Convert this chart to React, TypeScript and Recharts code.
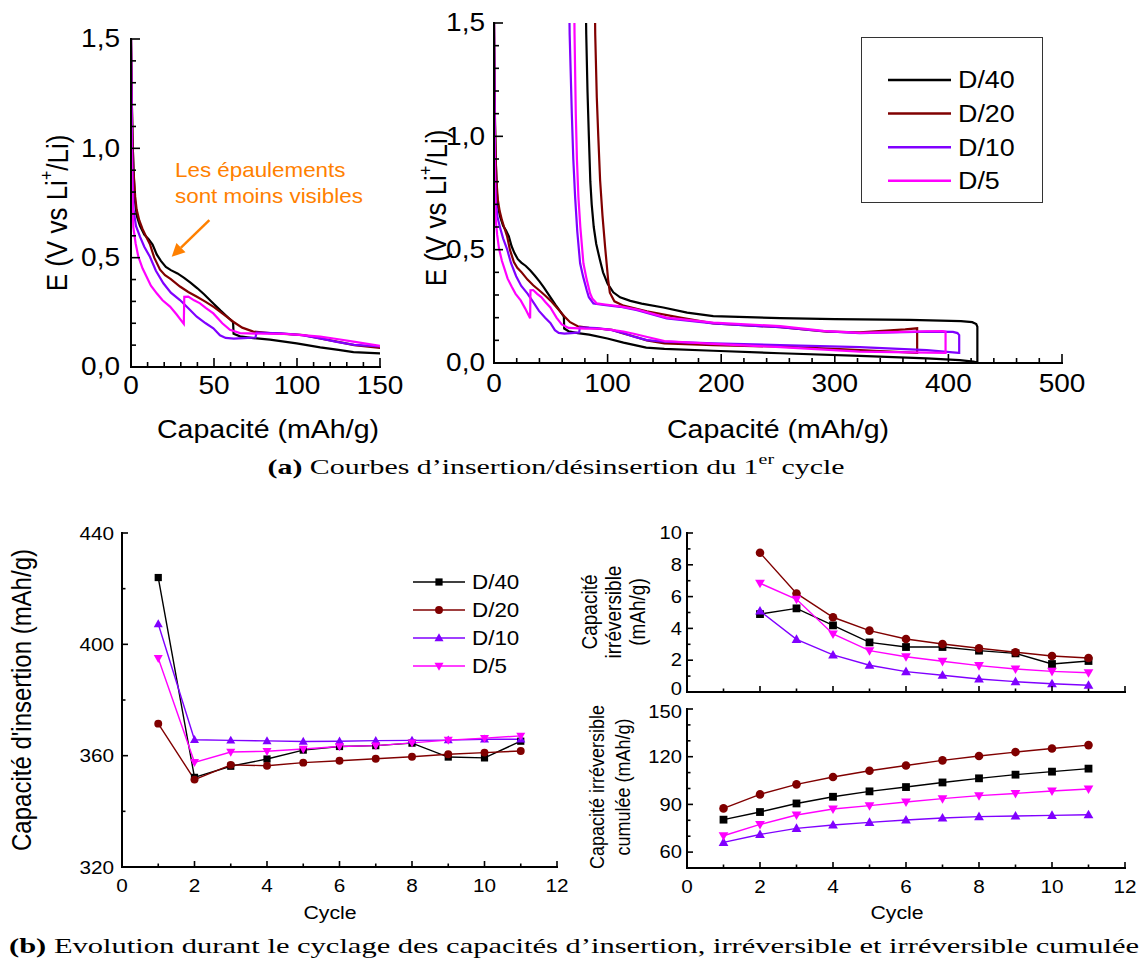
import React from 'react';
import { LineChart, Line, XAxis, YAxis, Legend, ReferenceLine } from 'recharts';

const SANS = '"Liberation Sans", Arial, Helvetica, sans-serif';
const SERIF = '"Liberation Serif", "Times New Roman", serif';
const SX = 1.12; // the source figure is slightly stretched horizontally
const ORANGE = '#ff8000';

const rateNames = ['D/40', 'D/20', 'D/10', 'D/5'];
const rateColors = ['#000000', '#800000', '#8000ff', '#ff00ff'];
const rateMarkers = ['square', 'circle', 'up', 'down'];

// first cycle, insertion (discharge) branch: [capacity mAh/g, E V]
const d40Dis = [
  [0, 1.5], [0.4, 1.25], [0.9, 1.05], [1.5, 0.9], [2.4, 0.76], [3.5, 0.69], [5.4, 0.645], [8, 0.605],
  [10.5, 0.585], [13, 0.56], [15.5, 0.515], [18, 0.485], [21, 0.458], [24, 0.443], [28, 0.428],
  [32, 0.408], [36, 0.385], [40, 0.36], [44, 0.333], [49, 0.295], [54, 0.258], [58, 0.23],
  [61.5, 0.205], [61.8, 0.152], [65.7, 0.14], [73.7, 0.132], [83.7, 0.125], [99.8, 0.108],
  [114, 0.09], [125, 0.078], [134, 0.068], [150, 0.062], [193, 0.054], [252, 0.043], [322, 0.031],
  [381, 0.02], [410, 0.013], [422, 0.006], [425, 0.003],
];
const d20Dis = [
  [0, 1.5], [0.4, 1.25], [0.9, 1.05], [1.5, 0.9], [2.5, 0.78], [3.4, 0.72], [5, 0.67], [7, 0.63],
  [9.5, 0.59], [11.5, 0.56], [14, 0.5], [17.5, 0.445], [20.5, 0.42], [24, 0.402], [29.5, 0.368],
  [34.5, 0.343], [40, 0.32], [45, 0.298], [50, 0.274], [56, 0.24], [61.6, 0.207], [67, 0.18],
  [73.7, 0.162], [83.7, 0.155], [95, 0.15], [104, 0.146], [113, 0.132], [124, 0.116], [134.5, 0.1],
  [150, 0.087], [193, 0.079], [252, 0.072], [300, 0.062], [340, 0.053], [372, 0.045],
];
const d10Dis = [
  [0, 1.5], [0.3, 1.25], [0.7, 1.0], [1.0, 0.85], [1.5, 0.72], [3, 0.645], [5.4, 0.596], [8, 0.55],
  [11.4, 0.504], [15, 0.44], [19.5, 0.383], [24, 0.34], [29.5, 0.306], [35, 0.265], [39.6, 0.23],
  [45, 0.2], [49.6, 0.177], [53.6, 0.145], [57, 0.133], [62, 0.13], [68, 0.132], [75, 0.135],
  [75.6, 0.157], [90.5, 0.154], [103, 0.146], [114, 0.131], [124, 0.115], [134.5, 0.101],
  [150, 0.094], [193, 0.087], [252, 0.079], [322, 0.07], [381, 0.057], [409, 0.045],
];
const d5Dis = [
  [0, 1.5], [0.2, 1.2], [0.5, 0.95], [0.9, 0.78], [1.4, 0.64], [2.8, 0.565], [4.4, 0.505], [7, 0.45],
  [9.4, 0.413], [12, 0.372], [15.5, 0.337], [19, 0.305], [23.5, 0.276], [27.5, 0.24], [31.8, 0.197],
  [32.1, 0.321], [34.5, 0.322], [38, 0.305], [41.6, 0.291], [45, 0.27], [49.6, 0.245], [55, 0.2],
  [59.6, 0.17], [65.7, 0.155], [80, 0.152], [94, 0.151], [105, 0.145], [114, 0.139], [124, 0.128],
  [134, 0.116], [150, 0.097], [193, 0.084], [252, 0.07], [322, 0.05], [397, 0.045],
];

// first cycle, desinsertion (charge) branch, plotted back towards lower capacity
const d40Cha = [
  [425.5, 0.003], [425.5, 0.16], [424.5, 0.172], [421, 0.18], [411, 0.185], [366, 0.19], [300, 0.194],
  [252, 0.198], [193, 0.207], [170, 0.222], [149, 0.245], [130, 0.262], [120, 0.274], [111, 0.29],
  [105, 0.312], [100, 0.35], [96, 0.4], [93, 0.46], [90, 0.525], [87.8, 0.6], [86, 0.7], [84.8, 0.8],
  [83.5, 1.0], [82.3, 1.2], [81.2, 1.45], [80.8, 1.6],
];
const d20Cha = [
  [372.5, 0.045], [372.5, 0.153], [362, 0.148], [352, 0.145], [322, 0.135], [293, 0.138], [252, 0.158],
  [234, 0.163], [193, 0.175], [164, 0.2], [134.5, 0.228], [114, 0.253], [106, 0.272], [102, 0.31],
  [100.5, 0.366], [97.8, 0.512], [95.5, 0.65], [93.4, 0.806], [91.8, 1.0], [90.5, 1.17], [89.1, 1.45],
  [88.8, 1.6],
];
const d10Cha = [
  [409.5, 0.045], [409.5, 0.123], [408, 0.132], [404, 0.137], [381, 0.138], [350, 0.135], [322, 0.132],
  [290, 0.14], [252, 0.158], [234, 0.163], [193, 0.175], [152, 0.197], [126, 0.233], [111, 0.248],
  [95, 0.257], [87.5, 0.263], [83.5, 0.29], [81.7, 0.32], [78.5, 0.38], [75.8, 0.44], [73.3, 0.58],
  [71.4, 0.733], [69.8, 0.9], [68.5, 1.1], [66.6, 1.45], [66.2, 1.6],
];
const d5Cha = [
  [397.5, 0.045], [397.5, 0.138], [395, 0.141], [381, 0.14], [350, 0.136], [322, 0.133], [290, 0.142],
  [252, 0.163], [193, 0.178], [152, 0.2], [126, 0.236], [111, 0.25], [98, 0.258], [90.5, 0.263],
  [86.5, 0.285], [84.6, 0.307], [81.5, 0.37], [78.7, 0.44], [76, 0.6], [74.3, 0.733], [73, 0.9],
  [72, 1.1], [70.9, 1.45], [70.6, 1.6],
];

const disArrays = [d40Dis, d20Dis, d10Dis, d5Dis];
const chaArrays = [d40Cha, d20Cha, d10Cha, d5Cha];

// cycling
const cycles = [1, 2, 3, 4, 5, 6, 7, 8, 9, 10, 11];
const insD40 = [424, 352.2, 356.2, 358.8, 362.0, 363.3, 363.6, 364.5, 359.5, 359.2, 365.2];
const insD20 = [371.5, 351.4, 356.7, 356.4, 357.5, 358.2, 358.9, 359.6, 360.5, 361.1, 361.7];
const insD10 = [407.3, 365.7, 365.5, 365.3, 365.1, 365.2, 365.4, 365.5, 365.6, 365.9, 365.9];
const insD5 = [395.0, 357.6, 361.3, 361.6, 362.4, 363.3, 363.6, 364.6, 365.6, 366.3, 367.1];

const irrCycles = [2, 3, 4, 5, 6, 7, 8, 9, 10, 11];
const irrD40 = [4.9, 5.26, 4.19, 3.12, 2.83, 2.83, 2.6, 2.43, 1.76, 1.95];
const irrD20 = [8.76, 6.2, 4.7, 3.86, 3.33, 3.02, 2.75, 2.5, 2.26, 2.14];
const irrD10 = [5.09, 3.31, 2.33, 1.68, 1.28, 1.05, 0.82, 0.65, 0.52, 0.42];
const irrD5 = [6.84, 5.83, 3.65, 2.6, 2.22, 1.93, 1.66, 1.45, 1.3, 1.21];

const cumD40 = [80.4, 85.2, 90.6, 94.8, 98.2, 100.9, 103.8, 106.4, 108.7, 110.6, 112.5];
const cumD20 = [87.5, 96.3, 102.6, 107.2, 111.2, 114.5, 117.7, 120.4, 122.9, 125.2, 127.3];
const cumD10 = [66.1, 71.1, 74.9, 77.0, 78.7, 80.2, 81.4, 82.3, 82.7, 83.1, 83.5];
const cumD5 = [70.3, 77.4, 83.3, 87.1, 89.2, 91.5, 93.6, 95.5, 96.9, 98.4, 99.7];

// ticks
const capTicksA = [0, 10, 20, 30, 40, 50, 60, 70, 80, 90, 100, 110, 120, 130, 140, 150];
const capMajorA = [0, 50, 100, 150];
const capTicksB = [0, 20, 40, 60, 80, 100, 120, 140, 160, 180, 200, 220, 240, 260, 280, 300, 320, 340, 360, 380, 400, 420, 440, 460, 480, 500];
const capMajorB = [0, 100, 200, 300, 400, 500];
const eTicks = [0, 0.1, 0.2, 0.3, 0.4, 0.5, 0.6, 0.7, 0.8, 0.9, 1, 1.1, 1.2, 1.3, 1.4, 1.5];
const eMajor = [0, 0.5, 1, 1.5];
const cycleTicks = [0, 1, 2, 3, 4, 5, 6, 7, 8, 9, 10, 11, 12];
const cycleMajor = [0, 2, 4, 6, 8, 10, 12];
const insTicks = [320, 340, 360, 380, 400, 420, 440];
const insMajor = [320, 360, 400, 440];
const irrTicks = [0, 1, 2, 3, 4, 5, 6, 7, 8, 9, 10];
const irrMajor = [0, 2, 4, 6, 8, 10];
const cumTicks = [60, 70, 80, 90, 100, 110, 120, 130, 140, 150];
const cumMajor = [60, 90, 120, 150];

// annotation arrow, in data units of the left plot
const arrowFrom = { x: 47.2, y: 0.672 };
const arrowTo = { x: 24.5, y: 0.504 };

const toPts = (arr: number[][]) => arr.map(([c, v]) => ({ c, v }));
const zipPts = (xs: number[], ys: number[]) => xs.map((c, i) => ({ c, v: ys[i] }));
const comma = (v: number) => v.toFixed(1).replace('.', ',');
const plain = (v: number) => String(v);

const AX = { stroke: '#000', strokeWidth: 2, strokeLinecap: 'square' as const };

function SText({ x, y, size, anchor = 'middle', fill = '#000', rotate = false, children }: any) {
  const t = `translate(${x},${y}) scale(${SX},1)${rotate ? ' rotate(-90)' : ''}`;
  return (
    <text transform={t} fontSize={size} fontFamily={SANS} textAnchor={anchor} dominantBaseline="central" fill={fill}>
      {children}
    </text>
  );
}

type Lbl = { fmt: (v: number) => string; size: number; gap: number; nudge?: (v: number) => number };
type Side = 'left' | 'right' | 'top' | 'bottom';

// inward ticks, major/minor, label only on majors
function makeTick(side: Side, majors: number[], lens: number[], label?: Lbl) {
  return (props: any) => {
    const { x, y, payload } = props;
    const v = payload.value;
    const major = majors.some((m) => Math.abs(m - v) < 1e-6);
    const len = major ? lens[0] : lens[1];
    let x2 = x;
    let y2 = y;
    if (side === 'left') x2 = x + len;
    if (side === 'right') x2 = x - len;
    if (side === 'bottom') y2 = y - len;
    if (side === 'top') y2 = y + len;
    let text = null;
    if (label && major) {
      const dy = label.nudge ? label.nudge(v) : 0;
      if (side === 'left') {
        text = <SText x={x - label.gap} y={y + dy} size={label.size} anchor="end">{label.fmt(v)}</SText>;
      } else {
        text = <SText x={x} y={y + label.gap} size={label.size}>{label.fmt(v)}</SText>;
      }
    }
    return (
      <g>
        <line x1={x} y1={y} x2={x2} y2={y2} stroke="#000" strokeWidth={1.6} />
        {text}
      </g>
    );
  };
}

function frame(cfg: {
  xd: number[]; yd: number[]; xt: number[]; xm: number[]; yt: number[]; ym: number[];
  lens: number[]; xh: number; yw: number; xl?: Lbl; yl?: Lbl;
}) {
  const common = {
    type: 'number' as const,
    allowDataOverflow: true,
    interval: 0 as const,
    tickLine: false,
    tickSize: 0,
    tickMargin: 0,
    axisLine: AX,
  };
  return [
    <XAxis key="xb" dataKey="c" domain={cfg.xd} ticks={cfg.xt} height={cfg.xh} tick={makeTick('bottom', cfg.xm, cfg.lens, cfg.xl)} {...common} />,
    <XAxis key="xt" xAxisId="t" orientation="top" domain={cfg.xd} ticks={cfg.xt} height={0} tick={makeTick('top', cfg.xm, cfg.lens)} {...common} />,
    <YAxis key="yl" domain={cfg.yd} ticks={cfg.yt} width={cfg.yw} tick={makeTick('left', cfg.ym, cfg.lens, cfg.yl)} {...common} />,
    <YAxis key="yr" yAxisId="r" orientation="right" domain={cfg.yd} ticks={cfg.yt} width={0} tick={makeTick('right', cfg.ym, cfg.lens)} {...common} />,
  ];
}

function Marker({ kind, cx, cy, color, s }: any) {
  if (cx == null || cy == null) return null;
  if (kind === 'square') return <rect x={cx - s} y={cy - s} width={2 * s} height={2 * s} fill={color} />;
  if (kind === 'circle') return <circle cx={cx} cy={cy} r={s * 1.1} fill={color} />;
  if (kind === 'up')
    return <polygon points={`${cx},${cy - s * 1.3} ${cx + s * 1.25},${cy + s * 0.9} ${cx - s * 1.25},${cy + s * 0.9}`} fill={color} />;
  return <polygon points={`${cx},${cy + s * 1.3} ${cx + s * 1.25},${cy - s * 0.9} ${cx - s * 1.25},${cy - s * 0.9}`} fill={color} />;
}

const dotFor = (kind: string, color: string, s: number) => (p: any) => (
  <Marker key={`m${p.index}`} kind={kind} cx={p.cx} cy={p.cy} color={color} s={s} />
);

function ArrowShape(p: any) {
  const { x1, y1, x2, y2 } = p;
  const a = Math.atan2(y2 - y1, x2 - x1);
  const L = 13;
  const W = 6.5;
  const bx = x2 - L * Math.cos(a);
  const by = y2 - L * Math.sin(a);
  const pts = `${x2},${y2} ${bx + W * Math.sin(a)},${by - W * Math.cos(a)} ${bx - W * Math.sin(a)},${by + W * Math.cos(a)}`;
  return (
    <g>
      <line x1={x1} y1={y1} x2={bx} y2={by} stroke={ORANGE} strokeWidth={2.5} />
      <polygon points={pts} fill={ORANGE} />
    </g>
  );
}

function BoxLegend() {
  return (
    <svg width={182} height={166} style={{ display: 'block' }}>
      <rect x={0.5} y={0.5} width={181} height={165} fill="#fff" stroke="#333" strokeWidth={1} />
      {rateNames.map((n, i) => {
        const y = 43 + i * 33.6;
        return (
          <g key={n}>
            <line x1={27} x2={90} y1={y} y2={y} stroke={rateColors[i]} strokeWidth={2.5} />
            <SText x={97} y={y} size={24} anchor="start">{n}</SText>
          </g>
        );
      })}
    </svg>
  );
}

function MarkerLegend() {
  return (
    <svg width={130} height={120} style={{ display: 'block' }}>
      {rateNames.map((n, i) => {
        const y = 17 + i * 28;
        return (
          <g key={n}>
            <line x1={8} x2={60} y1={y} y2={y} stroke={rateColors[i]} strokeWidth={1.5} />
            <Marker kind={rateMarkers[i]} cx={34} cy={y} color={rateColors[i]} s={3.6} />
            <SText x={67} y={y} size={20} anchor="start">{n}</SText>
          </g>
        );
      })}
    </svg>
  );
}

const abs = (left: number, top: number): React.CSSProperties => ({ position: 'absolute', left, top });

export default function App() {
  const insSeries = [insD40, insD20, insD10, insD5];
  const irrSeries = [irrD40, irrD20, irrD10, irrD5];
  const cumSeries = [cumD40, cumD20, cumD10, cumD5];

  return (
    <div style={{ position: 'absolute', left: 0, top: 0, width: 1142, height: 965, background: '#fff', overflow: 'hidden' }}>
      {/* (a) left: zoom on the start of the insertion */}
      <div style={abs(61, 19)}>
        <LineChart width={350} height={388} margin={{ top: 20, right: 31, bottom: 0, left: 0 }}>
          {frame({
            xd: [0, 150], yd: [0, 1.5], xt: capTicksA, xm: capMajorA, yt: eTicks, ym: eMajor,
            lens: [9, 5], xh: 40, yw: 70,
            xl: { fmt: plain, size: 25, gap: 19 }, yl: { fmt: comma, size: 25, gap: 11 },
          })}
          {disArrays.map((arr, i) => (
            <Line key={rateNames[i]} data={toPts(arr)} dataKey="v" type="linear" stroke={rateColors[i]} strokeWidth={2.2}
              dot={false} activeDot={false} isAnimationActive={false} />
          ))}
          <ReferenceLine segment={[arrowFrom, arrowTo]} ifOverflow="visible" shape={ArrowShape} />
        </LineChart>
      </div>

      {/* (a) right: full first cycle */}
      <div style={abs(434, 7)}>
        <LineChart width={658} height={396} margin={{ top: 16, right: 30, bottom: 0, left: 0 }}>
          {frame({
            xd: [0, 500], yd: [0, 1.5], xt: capTicksB, xm: capMajorB, yt: eTicks, ym: eMajor,
            lens: [9, 5], xh: 40, yw: 60,
            xl: { fmt: plain, size: 25, gap: 21 }, yl: { fmt: comma, size: 25, gap: 9 },
          })}
          {disArrays.map((arr, i) => (
            <Line key={rateNames[i]} name={rateNames[i]} data={toPts([...arr, ...chaArrays[i]])} dataKey="v" type="linear"
              stroke={rateColors[i]} strokeWidth={2.2} dot={false} activeDot={false} isAnimationActive={false} />
          ))}
          <Legend layout="vertical" align="center" verticalAlign="middle"
            wrapperStyle={{ left: 427, top: 30, width: 182, height: 166 }} content={() => <BoxLegend />} />
        </LineChart>
      </div>

      {/* (b) left: insertion capacity */}
      <div style={abs(62, 521)}>
        <LineChart width={511} height={381} margin={{ top: 12, right: 16, bottom: 0, left: 0 }}>
          {frame({
            xd: [0, 12], yd: [320, 440], xt: cycleTicks, xm: cycleMajor, yt: insTicks, ym: insMajor,
            lens: [6, 3.5], xh: 35, yw: 60,
            xl: { fmt: plain, size: 18.5, gap: 18 }, yl: { fmt: plain, size: 18.5, gap: 8 },
          })}
          {insSeries.map((ys, i) => (
            <Line key={rateNames[i]} data={zipPts(cycles, ys)} dataKey="v" type="linear" stroke={rateColors[i]} strokeWidth={1.4}
              dot={dotFor(rateMarkers[i], rateColors[i], 3.6)} activeDot={false} isAnimationActive={false} />
          ))}
          <Legend layout="vertical" align="center" verticalAlign="middle"
            wrapperStyle={{ left: 343, top: 44, width: 130, height: 120 }} content={() => <MarkerLegend />} />
        </LineChart>
      </div>

      {/* (b) right top: irreversible capacity */}
      <div style={abs(637, 519)}>
        <LineChart width={504} height={187} margin={{ top: 14, right: 16, bottom: 0, left: 0 }}>
          {frame({
            xd: [0, 12], yd: [0, 10], xt: cycleTicks, xm: cycleMajor, yt: irrTicks, ym: irrMajor,
            lens: [6, 3.5], xh: 14, yw: 50,
            yl: { fmt: plain, size: 18, gap: 5, nudge: (v) => (v === 0 ? -3 : 0) },
          })}
          {irrSeries.map((ys, i) => (
            <Line key={rateNames[i]} data={zipPts(irrCycles, ys)} dataKey="v" type="linear" stroke={rateColors[i]} strokeWidth={1.4}
              dot={dotFor(rateMarkers[i], rateColors[i], 3.9)} activeDot={false} isAnimationActive={false} />
          ))}
        </LineChart>
      </div>

      {/* (b) right bottom: cumulated irreversible capacity */}
      <div style={abs(637, 695)}>
        <LineChart width={504} height={208} margin={{ top: 14, right: 16, bottom: 0, left: 0 }}>
          {frame({
            xd: [0, 12], yd: [50, 150], xt: cycleTicks, xm: cycleMajor, yt: cumTicks, ym: cumMajor,
            lens: [6, 3.5], xh: 35, yw: 50,
            xl: { fmt: plain, size: 18.5, gap: 18 },
            yl: { fmt: plain, size: 18, gap: 5, nudge: (v) => (v === 150 ? 3 : 0) },
          })}
          {cumSeries.map((ys, i) => (
            <Line key={rateNames[i]} data={zipPts(cycles, ys)} dataKey="v" type="linear" stroke={rateColors[i]} strokeWidth={1.4}
              dot={dotFor(rateMarkers[i], rateColors[i], 3.9)} activeDot={false} isAnimationActive={false} />
          ))}
        </LineChart>
      </div>

      {/* titles, annotation and captions */}
      <svg width={1142} height={965} style={{ position: 'absolute', left: 0, top: 0, pointerEvents: 'none' }}>
        <SText x={57} y={213} size={26} rotate>
          E (V vs Li<tspan dy={-9} fontSize={16}>+</tspan><tspan dy={9}>/Li)</tspan>
        </SText>
        <SText x={436} y={208} size={26} rotate>
          E (V vs Li<tspan dy={-9} fontSize={16}>+</tspan><tspan dy={9}>/Li)</tspan>
        </SText>
        <SText x={268} y={429} size={25.5}>Capacité (mAh/g)</SText>
        <SText x={778} y={429} size={25.5}>Capacité (mAh/g)</SText>
        <SText x={175} y={170} size={20} anchor="start" fill={ORANGE}>Les épaulements</SText>
        <SText x={175} y={196} size={20} anchor="start" fill={ORANGE}>sont moins visibles</SText>

        <SText x={22} y={700} size={24} rotate>Capacité d'insertion (mAh/g)</SText>
        <SText x={330} y={912} size={19}>Cycle</SText>
        <SText x={897} y={912} size={19}>Cycle</SText>
        <SText x={590} y={612} size={19} rotate>Capacité</SText>
        <SText x={614} y={612} size={19} rotate>irréversible</SText>
        <SText x={638} y={612} size={19} rotate>(mAh/g)</SText>
        <SText x={597} y={787} size={18} rotate>Capacité irréversible</SText>
        <SText x={623} y={787} size={18} rotate>cumulée (mAh/g)</SText>

        <text x={556} y={467} textAnchor="middle" dominantBaseline="central" fontFamily={SERIF} fontSize={21}
          textLength={577} lengthAdjust="spacingAndGlyphs">
          <tspan fontWeight="bold">(a)</tspan> Courbes d’insertion/désinsertion du 1<tspan fontSize={14} dy={-8}>er</tspan>
          <tspan dy={8}> cycle</tspan>
        </text>
        <text x={574} y={946} textAnchor="middle" dominantBaseline="central" fontFamily={SERIF} fontSize={21}
          textLength={1130} lengthAdjust="spacingAndGlyphs">
          <tspan fontWeight="bold">(b)</tspan> Evolution durant le cyclage des capacités d’insertion, irréversible et irréversible cumulée
        </text>
      </svg>
    </div>
  );
}
